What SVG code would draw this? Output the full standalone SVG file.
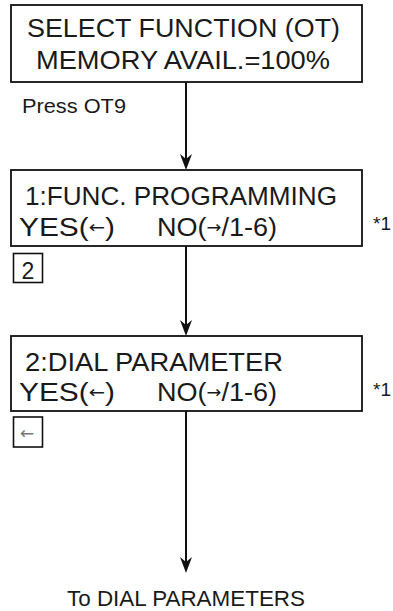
<svg xmlns="http://www.w3.org/2000/svg" width="393" height="611" viewBox="0 0 393 611">
<style>
.box{fill:#fff;stroke:#111;stroke-width:1.8}
.sbox{fill:#fff;stroke:#111;stroke-width:1.6}
.t{font-family:"Liberation Sans",Arial,sans-serif;fill:#1a1a1a}
.big{font-size:26px}
.arr{font-family:"DejaVu Sans",sans-serif;font-size:17px}
.conn{stroke:#111;stroke-width:2;fill:none}
.head{fill:#111}
</style>
<rect width="393" height="611" fill="#fff"/>
<g id="connectors">
<line class="conn" x1="186" y1="82" x2="186" y2="166"/>
<path class="head" d="M180,154 L186,159 L192,154 L189,162 L186,170 L183,162 Z"/>
<line class="conn" x1="186" y1="246" x2="186" y2="332"/>
<path class="head" d="M180,320 L186,325 L192,320 L189,328 L186,336 L183,328 Z"/>
<line class="conn" x1="186" y1="411" x2="186" y2="569"/>
<path class="head" d="M180,557 L186,562 L192,557 L189,565 L186,573 L183,565 Z"/>
</g>
<g id="node-select">
<rect class="box" x="11" y="5" width="351" height="77"/>
<text class="t big" x="27" y="37" textLength="313" lengthAdjust="spacingAndGlyphs">SELECT FUNCTION (OT)</text>
<text class="t big" x="36" y="69" textLength="294" lengthAdjust="spacingAndGlyphs">MEMORY AVAIL.=100%</text>
</g>
<g id="label-press">
<text class="t" x="22" y="113" font-size="20" textLength="104" lengthAdjust="spacingAndGlyphs">Press OT9</text>
</g>
<g id="node-func">
<rect class="box" x="11" y="170" width="351" height="76"/>
<text class="t big" x="25" y="205" textLength="312" lengthAdjust="spacingAndGlyphs">1:FUNC. PROGRAMMING</text>
<text class="t big" x="19" y="236" textLength="96" lengthAdjust="spacingAndGlyphs">YES(<tspan class="arr" dy="-3">←</tspan><tspan dy="3">)</tspan></text>
<text class="t big" x="157" y="236" textLength="120" lengthAdjust="spacingAndGlyphs">NO(<tspan class="arr" dy="-3">→</tspan><tspan dy="3">/1-6)</tspan></text>
<text class="t" x="373" y="230" font-size="19">*1</text>
</g>
<g id="key-2">
<rect class="sbox" x="13.5" y="253.5" width="29" height="29"/>
<text class="t" x="28" y="279" font-size="23" text-anchor="middle">2</text>
</g>
<g id="node-dial">
<rect class="box" x="11" y="336" width="351" height="75"/>
<text class="t big" x="25" y="371" textLength="258" lengthAdjust="spacingAndGlyphs">2:DIAL PARAMETER</text>
<text class="t big" x="19" y="401" textLength="96" lengthAdjust="spacingAndGlyphs">YES(<tspan class="arr" dy="-3">←</tspan><tspan dy="3">)</tspan></text>
<text class="t big" x="157" y="401" textLength="120" lengthAdjust="spacingAndGlyphs">NO(<tspan class="arr" dy="-3">→</tspan><tspan dy="3">/1-6)</tspan></text>
<text class="t" x="373" y="396" font-size="19">*1</text>
</g>
<g id="key-left">
<rect class="sbox" x="13.5" y="417" width="29" height="30"/>
<text x="27" y="439" font-family="DejaVu Sans,sans-serif" font-size="17" text-anchor="middle" fill="#777">←</text>
</g>
<g id="label-to">
<text class="t" x="67" y="606" font-size="22" textLength="238" lengthAdjust="spacingAndGlyphs">To DIAL PARAMETERS</text>
</g>
</svg>
